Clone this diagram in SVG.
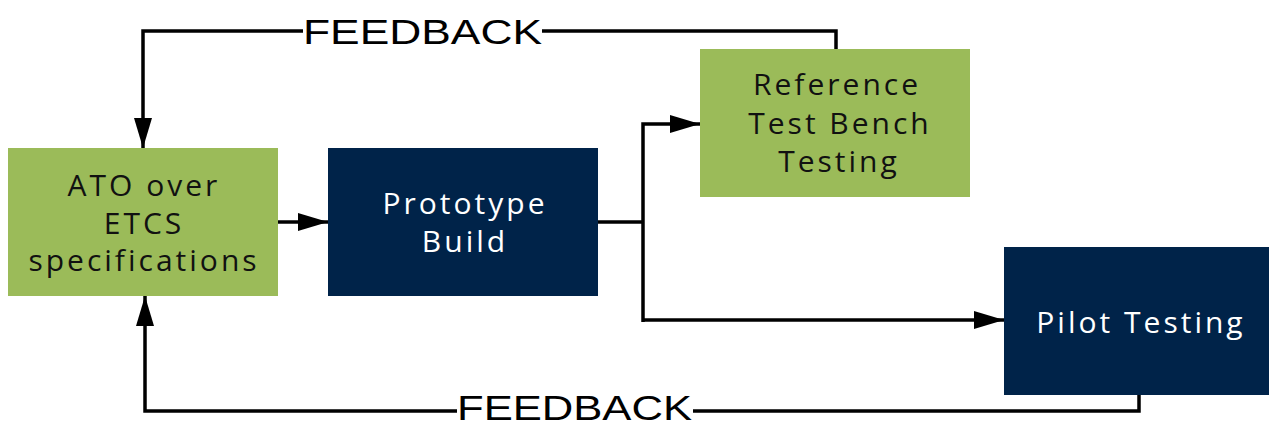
<svg xmlns="http://www.w3.org/2000/svg" width="1269" height="427" viewBox="0 0 1269 427">
<defs>
<style>
.green{fill:#9BBB59}
.navy{fill:#002349}
.t{font-family:"Open Sans","Noto Sans",sans-serif;font-size:30px;text-anchor:middle;letter-spacing:3px}
.dark{fill:#111}
.light{fill:#fff}
.fb{font-family:"Liberation Sans",Arial,sans-serif;font-size:35px;fill:#000}
.c{fill:none;stroke:#000;stroke-width:3.5}
</style>
<marker id="ah" markerWidth="30" markerHeight="18" refX="30" refY="9" orient="auto" markerUnits="userSpaceOnUse">
<path d="M0,0 L30,9 L0,18 Z" fill="#000"/>
</marker>
</defs>
<rect width="1269" height="427" fill="#fff"/>
<g id="connectors">
<path class="c" d="M303,31 H143 V148" marker-end="url(#ah)"/>
<path class="c" d="M542,31 H836 V49"/>
<path class="c" d="M278,222 H328" marker-end="url(#ah)"/>
<path class="c" d="M598,222 H643"/>
<path class="c" d="M643,322 V124 H700" marker-end="url(#ah)"/>
<path class="c" d="M643,320 H1004" marker-end="url(#ah)"/>
<path class="c" d="M1139,395 V411 H145 V296" marker-end="url(#ah)"/>
<rect x="457" y="396" width="236" height="31" fill="#fff"/>
<text class="fb" x="303" y="44" textLength="239" lengthAdjust="spacingAndGlyphs">FEEDBACK</text>
<text class="fb" x="457" y="420" font-size="30" textLength="235" lengthAdjust="spacingAndGlyphs">FEEDBACK</text>
</g>
<g id="ato">
<rect class="green" x="8" y="148" width="270" height="148"/>
<text class="t dark" x="144" y="196">ATO over</text>
<text class="t dark" x="144" y="234">ETCS</text>
<text class="t dark" x="144" y="271">specifications</text>
</g>
<g id="prototype">
<rect class="navy" x="328" y="148" width="270" height="148"/>
<text class="t light" x="465" y="214">Prototype</text>
<text class="t light" x="465" y="252">Build</text>
</g>
<g id="reference">
<rect class="green" x="700" y="49" width="270" height="148"/>
<text class="t dark" x="837" y="95">Reference</text>
<text class="t dark" x="840" y="134">Test Bench</text>
<text class="t dark" x="839" y="172">Testing</text>
</g>
<g id="pilot">
<rect class="navy" x="1004" y="247" width="265" height="148"/>
<text class="t light" x="1141" y="333">Pilot Testing</text>
</g>
</svg>
